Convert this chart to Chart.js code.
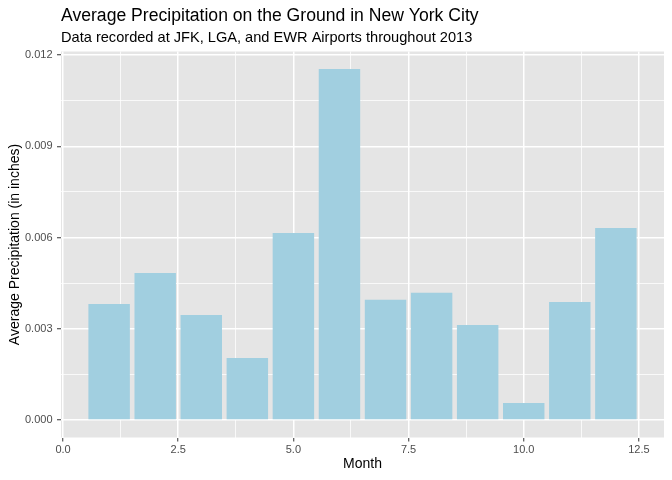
<!DOCTYPE html>
<html>
<head>
<meta charset="utf-8">
<title>Average Precipitation on the Ground in New York City</title>
<script src="https://cdn.jsdelivr.net/npm/chart.js@4.4.1/dist/chart.umd.min.js"></script>
<style>
  html, body { margin: 0; padding: 0; background: #fff; }
  #wrap { width: 672px; height: 480px; position: relative; }
</style>
</head>
<body>
<div id="wrap"><canvas id="precipChart"></canvas></div>
<script>
// data
const months = [1, 2, 3, 4, 5, 6, 7, 8, 9, 10, 11, 12];
const avgPrecip = [0.00381, 0.00483, 0.00345, 0.00204, 0.00615, 0.01154,
                   0.00395, 0.00418, 0.00312, 0.00056, 0.00388, 0.00631];
const xMajorTicks = [0, 2.5, 5, 7.5, 10, 12.5];
const xMinorTicks = [1.25, 3.75, 6.25, 8.75, 11.25];
const yMajorTicks = [0, 0.003, 0.006, 0.009, 0.012];
const yMinorTicks = [0.0015, 0.0045, 0.0075, 0.0105];

const FONT = '"Liberation Sans", Arial, Helvetica, sans-serif';
const PANEL = "#E5E5E5";

function isMajor(list, v) {
  return list.some((t) => Math.abs(t - v) < 1e-9);
}

// grey ggplot-like panel behind the bars
const panelBg = {
  id: "panelBg",
  beforeDraw(chart) {
    const { ctx, chartArea: a } = chart;
    ctx.save();
    ctx.fillStyle = PANEL;
    ctx.fillRect(a.left, a.top, a.right - a.left, a.bottom - a.top);
    ctx.restore();
  },
};

// title + subtitle aligned with the panel's left edge
const headings = {
  id: "headings",
  afterDraw(chart) {
    const { ctx, chartArea: a } = chart;
    ctx.save();
    ctx.fillStyle = "#000";
    ctx.textAlign = "left";
    ctx.textBaseline = "alphabetic";
    ctx.font = "17.6px " + FONT;
    ctx.fillText("Average Precipitation on the Ground in New York City", a.left, 21);
    ctx.font = "14.6px " + FONT;
    ctx.fillText("Data recorded at JFK, LGA, and EWR Airports throughout 2013", a.left, 42);
    ctx.restore();
  },
};

const ctx = document.getElementById("precipChart").getContext("2d");

new Chart(ctx, {
  type: "bar",
  data: {
    datasets: [
      {
        label: "Average Precipitation",
        data: months.map((m, i) => ({ x: m, y: avgPrecip[i] })),
        backgroundColor: "#A1CFE0",
        borderWidth: 0,
        barPercentage: 0.9,
        categoryPercentage: 1.0,
      },
    ],
  },
  options: {
    responsive: true,
    maintainAspectRatio: false,
    animation: false,
    devicePixelRatio: 1,
    layout: { padding: { top: 51.5, right: 8, bottom: 0, left: 0 } },
    plugins: {
      legend: { display: false },
      tooltip: { enabled: false },
      title: { display: false },
    },
    scales: {
      x: {
        type: "linear",
        offset: false,
        min: -0.045,
        max: 13.045,
        afterBuildTicks(scale) {
          scale.ticks = xMajorTicks.concat(xMinorTicks)
            .sort((a, b) => a - b)
            .map((v) => ({ value: v }));
        },
        afterFit(scale) {
          scale.height = 42.5;
        },
        border: { display: false },
        grid: {
          offset: false,
          color: "#FFFFFF",
          lineWidth: (c) => (isMajor(xMajorTicks, c.tick.value) ? 1.5 : 0.75),
          tickColor: (c) => (isMajor(xMajorTicks, c.tick.value) ? "#333333" : "rgba(0,0,0,0)"),
          tickWidth: 1,
          tickLength: 4,
        },
        ticks: {
          autoSkip: false,
          maxRotation: 0,
          padding: 1.5,
          color: "#4D4D4D",
          font: { family: FONT, size: 11 },
          callback: (v) => (isMajor(xMajorTicks, v) ? v.toFixed(1) : ""),
        },
        title: {
          display: true,
          text: "Month",
          color: "#000",
          font: { family: FONT, size: 14 },
          padding: { top: 0, bottom: 7.5 },
        },
      },
      y: {
        type: "linear",
        min: -0.000577,
        max: 0.012117,
        afterBuildTicks(scale) {
          scale.ticks = yMajorTicks.concat(yMinorTicks)
            .sort((a, b) => a - b)
            .map((v) => ({ value: v }));
        },
        afterFit(scale) {
          scale.width = 61;
        },
        border: { display: false },
        grid: {
          color: "#FFFFFF",
          lineWidth: (c) => (isMajor(yMajorTicks, c.tick.value) ? 1.5 : 0.75),
          tickColor: (c) => (isMajor(yMajorTicks, c.tick.value) ? "#333333" : "rgba(0,0,0,0)"),
          tickWidth: 1,
          tickLength: 4,
        },
        ticks: {
          autoSkip: false,
          padding: 4.5,
          color: "#4D4D4D",
          font: { family: FONT, size: 11 },
          callback: (v) => (isMajor(yMajorTicks, v) ? v.toFixed(3) : ""),
        },
        title: {
          display: true,
          text: "Average Precipitation (in inches)",
          color: "#000",
          font: { family: FONT, size: 14 },
          padding: { top: 6.5, bottom: 0 },
        },
      },
    },
  },
  plugins: [panelBg, headings],
});
</script>
</body>
</html>
